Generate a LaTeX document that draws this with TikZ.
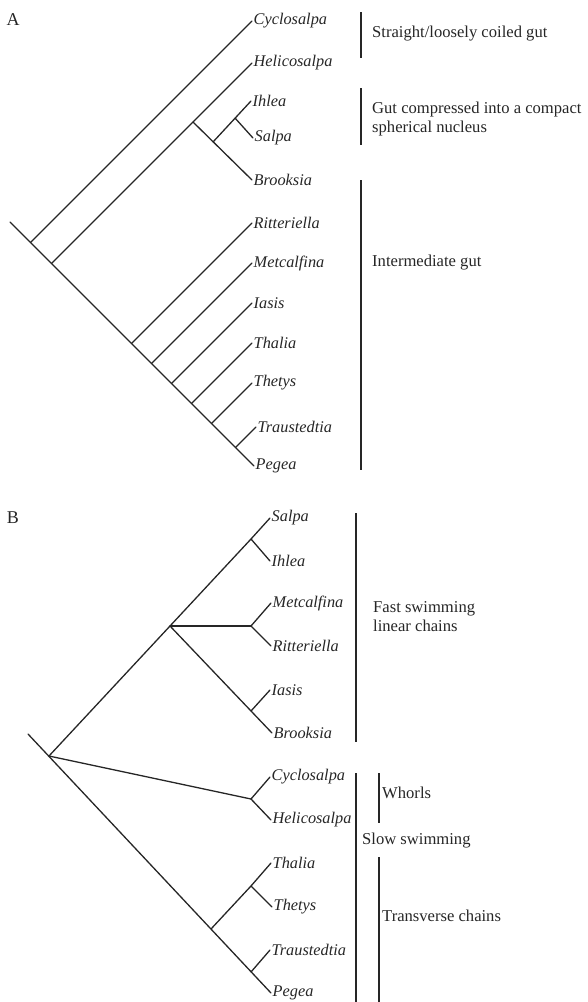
\documentclass[tikz,border=0pt]{standalone}
\usepackage{fontspec}
\setmainfont{Liberation Serif}
\tikzset{
  taxon/.style={anchor=west, inner sep=1.5pt, font=\fontsize{16.3}{19}\selectfont\itshape},
  note/.style={anchor=west, inner sep=0pt, align=left, font=\fontsize{16.6}{19}\selectfont},
  panel/.style={font=\fontsize{18}{20}\selectfont},
  branch/.style={line width=1.3pt, line cap=round},
  bar/.style={line width=1.3pt}
}
\begin{document}
\begin{tikzpicture}[x=1pt, y=-1pt, black!85]
\useasboundingbox (0,0) rectangle (587,1002);

% panel A
\node[panel] (pa) at (13,20) {A};
\node[taxon] (acyc) at (252,21) {Cyclosalpa};
\node[taxon] (ahel) at (252,63) {Helicosalpa};
\node[taxon] (aihl) at (251,101) {Ihlea};
\node[taxon] (asal) at (253,138) {Salpa};
\node[taxon] (abro) at (252,180) {Brooksia};
\node[taxon] (arit) at (252,223) {Ritteriella};
\node[taxon] (amet) at (252,263) {Metcalfina};
\node[taxon] (aias) at (252,303) {Iasis};
\node[taxon] (atha) at (252,343) {Thalia};
\node[taxon] (athe) at (252,383) {Thetys};
\node[taxon] (atra) at (256,427) {Traustedtia};
\node[taxon] (apeg) at (254,466) {Pegea};

\coordinate (ar) at (10,222);
\coordinate (a1) at (30.5,242.5);
\coordinate (a2) at (51.5,263.5);
\coordinate (a3) at (193,122);
\coordinate (a4) at (213,142);
\coordinate (a5) at (235,118);
\coordinate (a6) at (131.5,343.5);
\coordinate (a7) at (151.5,363.5);
\coordinate (a8) at (171.5,383.5);
\coordinate (a9) at (191.5,403.5);
\coordinate (a10) at (211.5,423.5);
\coordinate (a11) at (235.5,447.5);

\draw[branch] (ar) -- (apeg.west);
\draw[branch] (a1) -- (acyc.west);
\draw[branch] (a2) -- (ahel.west);
\draw[branch] (a3) -- (abro.west);
\draw[branch] (a4) -- (aihl.west);
\draw[branch] (a5) -- (asal.west);
\draw[branch] (a6) -- (arit.west);
\draw[branch] (a7) -- (amet.west);
\draw[branch] (a8) -- (aias.west);
\draw[branch] (a9) -- (atha.west);
\draw[branch] (a10) -- (athe.west);
\draw[branch] (a11) -- (atra.west);

\draw[bar] (361,12) -- (361,58);
\draw[bar] (361,88) -- (361,145);
\draw[bar] (361,180) -- (361,470);
\node[note] (gut1) at (372,34) {Straight/loosely coiled gut};
\node[note] (gut2) at (372,119) {Gut compressed into a compact\\spherical nucleus};
\node[note] (gut3) at (372,263) {Intermediate gut};

% panel B
\node[panel] (pb) at (13,518) {B};
\node[taxon] (bsal) at (270,518) {Salpa};
\node[taxon] (bihl) at (270,561) {Ihlea};
\node[taxon] (bmet) at (271,603) {Metcalfina};
\node[taxon] (brit) at (271,646) {Ritteriella};
\node[taxon] (bias) at (270,690) {Iasis};
\node[taxon] (bbro) at (272,733) {Brooksia};
\node[taxon] (bcyc) at (270,777) {Cyclosalpa};
\node[taxon] (bhel) at (271,820) {Helicosalpa};
\node[taxon] (btha) at (271,863) {Thalia};
\node[taxon] (bthe) at (272,907) {Thetys};
\node[taxon] (btra) at (270,950) {Traustedtia};
\node[taxon] (bpeg) at (271,993) {Pegea};

\coordinate (br) at (28,734);
\coordinate (b0) at (49,756);
\coordinate (b1) at (170,626);
\coordinate (b2) at (251,539);
\coordinate (b3) at (251,626);
\coordinate (b4) at (251,711);
\coordinate (b5) at (251,799);
\coordinate (b6) at (211,929);
\coordinate (b7) at (251,886);
\coordinate (b8) at (251,972);

\draw[branch] (br) -- (bpeg.west);
\draw[branch] (b0) -- (b2);
\draw[branch] (b2) -- (bsal.west);
\draw[branch] (b2) -- (bihl.west);
\draw[branch] (b1) -- (b3);
\draw[branch] (b3) -- (bmet.west);
\draw[branch] (b3) -- (brit.west);
\draw[branch] (b1) -- (bbro.west);
\draw[branch] (b4) -- (bias.west);
\draw[branch] (b0) -- (b5);
\draw[branch] (b5) -- (bcyc.west);
\draw[branch] (b5) -- (bhel.west);
\draw[branch] (b6) -- (b7);
\draw[branch] (b7) -- (btha.west);
\draw[branch] (b7) -- (bthe.west);
\draw[branch] (b8) -- (btra.west);

\draw[bar] (356,513) -- (356,742);
\draw[bar] (356,773) -- (356,1002);
\draw[bar] (379,773) -- (379,823);
\draw[bar] (379,857) -- (379,1002);
\node[note] (fast) at (373,617) {Fast swimming\\linear chains};
\node[note] (whorl) at (382,793) {Whorls};
\node[note] (slow) at (362,841) {Slow swimming};
\node[note] (trans) at (382,916) {Transverse chains};
\end{tikzpicture}
\end{document}
